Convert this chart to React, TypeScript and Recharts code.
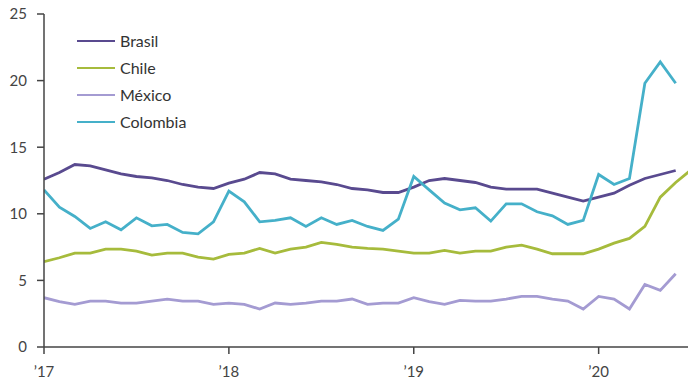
import { LineChart, Line, XAxis, YAxis } from "recharts";

document.body.style.margin = "0";

// monthly, Jan 2017 .. Jun 2020 (Chile has one more month)
const brasil = [
  12.6, 13.1, 13.7, 13.6, 13.3, 13.0, 12.8, 12.7, 12.5, 12.2, 12.0, 11.9,
  12.3, 12.6, 13.1, 13.0, 12.6, 12.5, 12.4, 12.2, 11.9, 11.8, 11.6, 11.6,
  12.0, 12.5, 12.65, 12.5, 12.35, 12.0, 11.85, 11.85, 11.85, 11.55, 11.25, 10.95,
  11.25, 11.55, 12.15, 12.65, 12.95, 13.25,
];
const chile = [
  6.4, 6.7, 7.05, 7.05, 7.35, 7.35, 7.2, 6.9, 7.05, 7.05, 6.75, 6.6,
  6.95, 7.05, 7.4, 7.05, 7.35, 7.5, 7.85, 7.7, 7.5, 7.4, 7.35, 7.2,
  7.05, 7.05, 7.25, 7.05, 7.2, 7.2, 7.5, 7.65, 7.35, 7.0, 7.0, 7.0,
  7.35, 7.8, 8.15, 9.05, 11.25, 12.35, 13.3,
];
const mexico = [
  3.7, 3.4, 3.2, 3.45, 3.45, 3.3, 3.3, 3.45, 3.6, 3.45, 3.45, 3.2,
  3.3, 3.2, 2.85, 3.3, 3.2, 3.3, 3.45, 3.45, 3.6, 3.2, 3.3, 3.3,
  3.7, 3.4, 3.2, 3.5, 3.45, 3.45, 3.6, 3.8, 3.8, 3.6, 3.45, 2.85,
  3.8, 3.6, 2.85, 4.7, 4.25, 5.5,
];
const colombia = [
  11.8, 10.5, 9.8, 8.9, 9.4, 8.8, 9.7, 9.1, 9.2, 8.6, 8.5, 9.4,
  11.7, 10.9, 9.4, 9.5, 9.7, 9.05, 9.7, 9.2, 9.5, 9.05, 8.75, 9.6,
  12.8, 11.8, 10.8, 10.3, 10.45, 9.45, 10.75, 10.75, 10.15, 9.85, 9.2, 9.5,
  12.95, 12.2, 12.65, 19.8, 21.4, 19.8,
];

const yearTicks = [0, 12, 24, 36];
const yearLabels = ["’17", "’18", "’19", "’20"];
const yTicks = [0, 5, 10, 15, 20, 25];

const series = [
  { key: "brasil", name: "Brasil", color: "#594a8f" },
  { key: "chile", name: "Chile", color: "#a6bb3c" },
  { key: "mexico", name: "México", color: "#a49bd2" },
  { key: "colombia", name: "Colombia", color: "#45b0c9" },
];

const data = chile.map((_, i) => ({
  i,
  brasil: brasil[i],
  chile: chile[i],
  mexico: mexico[i],
  colombia: colombia[i],
}));

const font = "Lato, 'Open Sans', sans-serif";

export default function App() {
  return (
    <div style={{ position: "relative", width: 688, height: 383, fontFamily: font }}>
      <LineChart
        width={688}
        height={383}
        data={data}
        margin={{ top: 14, right: 0, bottom: 6, left: 0 }}
      >
        <XAxis
          dataKey="i"
          type="number"
          domain={[0, 41.8]}
          allowDataOverflow
          ticks={yearTicks}
          tickFormatter={(v: number) => yearLabels[yearTicks.indexOf(v)]}
          height={30}
          tickSize={7}
          tickMargin={12}
          axisLine={{ stroke: "#444", strokeWidth: 1.5 }}
          tickLine={{ stroke: "#444", strokeWidth: 1.5 }}
          tick={{ fill: "#444", fontSize: 15, fontFamily: font }}
        />
        <YAxis
          domain={[0, 25]}
          ticks={yTicks}
          width={44}
          tickSize={7}
          tickMargin={10}
          axisLine={{ stroke: "#444", strokeWidth: 1.5 }}
          tickLine={{ stroke: "#444", strokeWidth: 1.5 }}
          tick={{ fill: "#444", fontSize: 15, fontFamily: font }}
        />
        {series.map((s) => (
          <Line
            key={s.key}
            dataKey={s.key}
            name={s.name}
            stroke={s.color}
            strokeWidth={2.8}
            dot={false}
            type="linear"
            isAnimationActive={false}
          />
        ))}
      </LineChart>
      <div style={{ position: "absolute", left: 77, top: 27 }}>
        {series.map((s) => (
          <div
            key={s.key}
            style={{ display: "flex", alignItems: "center", height: 27, fontSize: 16, color: "#333" }}
          >
            <span style={{ width: 38, height: 2, background: s.color, marginRight: 5 }} />
            {s.name}
          </div>
        ))}
      </div>
    </div>
  );
}
